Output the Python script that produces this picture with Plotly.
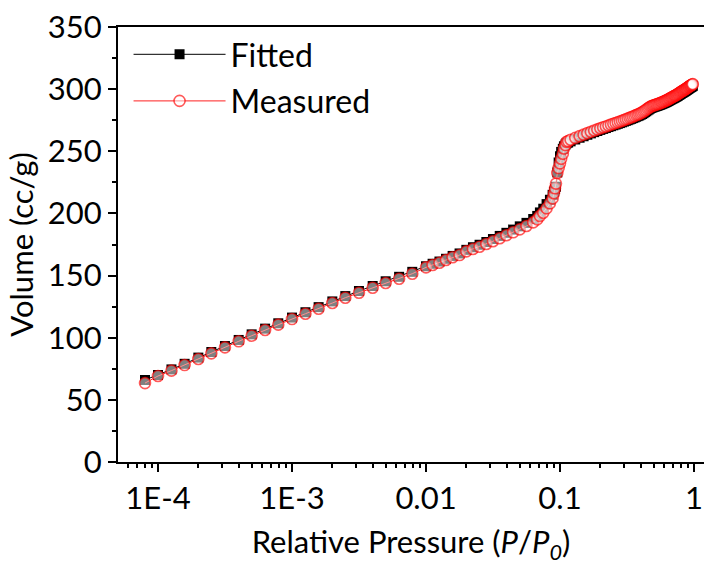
import plotly.graph_objects as go

# ---- low / mid pressure region (P/P0) ----
pressure_low = [
    8.0e-5, 1.0e-4, 1.26e-4, 1.58e-4, 2.0e-4, 2.5e-4, 3.16e-4, 4.0e-4, 5.0e-4, 6.3e-4,
    7.9e-4, 1.0e-3, 1.26e-3, 1.58e-3, 2.0e-3, 2.5e-3, 3.16e-3, 4.0e-3, 5.0e-3, 6.3e-3,
    7.9e-3, 0.0100, 0.0112, 0.0126, 0.0141, 0.0158, 0.0178, 0.0200, 0.0224, 0.0251,
    0.0282, 0.0316, 0.0355, 0.0398, 0.0447, 0.0501, 0.0562, 0.0631, 0.0676, 0.0708,
    0.0750, 0.0794, 0.0841, 0.0881, 0.0902, 0.0918, 0.0933, 0.0955, 0.0977, 0.1000,
    0.1020, 0.1050, 0.1070, 0.1100, 0.1120, 0.115,
]
measured_low = [
    63.5, 69.2, 73.5, 78.0, 82.9, 87.4, 92.2, 97.1, 101.6, 106.2,
    110.5, 115.0, 119.3, 123.3, 127.9, 132.2, 136.2, 140.2, 144.0, 147.5,
    151.5, 156.6, 158.5, 160.3, 162.5, 164.7, 166.5, 169.5, 171.4, 173.2,
    175.4, 177.6, 180.0, 182.4, 184.8, 187.2, 189.9, 192.8, 195.2, 197.9,
    200.6, 204.1, 208.1, 212.1, 216.2, 220.2, 224.0, 232.5, 236.5, 240.3,
    244.0, 248.0, 252.3, 255.0, 257.7, 258.2,
]
fitted_low = [
    66.0, 70.0, 74.5, 79.0, 84.0, 88.5, 93.3, 98.2, 102.7, 107.3,
    111.6, 116.2, 120.5, 124.6, 129.2, 133.5, 137.6, 141.6, 145.4, 149.0,
    153.0, 157.5, 159.5, 161.3, 163.5, 165.8, 167.8, 170.7, 172.8, 174.8,
    177.0, 179.4, 181.9, 184.4, 187.0, 189.6, 192.4, 195.5, 198.0, 200.8,
    203.8, 207.5, 211.0, 215.0, 217.5, 219.5, 221.5, 233.0, 241.0, 246.0,
    249.5, 252.0, 254.0, 255.5, 256.5, 257.0,
]

# ---- high pressure region (P/P0) ----
pressure_high = [
    0.12, 0.13, 0.14, 0.15, 0.16, 0.17, 0.18, 0.19, 0.20, 0.21,
    0.22, 0.23, 0.24, 0.25, 0.26, 0.27, 0.28, 0.29, 0.30, 0.31,
    0.32, 0.33, 0.34, 0.35, 0.36, 0.37, 0.38, 0.39, 0.40, 0.41,
    0.42, 0.43, 0.44, 0.45, 0.46, 0.47, 0.48, 0.49, 0.50, 0.51,
    0.52, 0.53, 0.54, 0.55, 0.56, 0.57, 0.58, 0.59, 0.60, 0.61,
    0.62, 0.63, 0.64, 0.65, 0.66, 0.67, 0.68, 0.69, 0.70, 0.71,
    0.72, 0.73, 0.74, 0.75, 0.76, 0.77, 0.78, 0.79, 0.80, 0.81,
    0.82, 0.83, 0.84, 0.85, 0.86, 0.87, 0.88, 0.89, 0.90, 0.91,
    0.92, 0.93, 0.94, 0.95, 0.96, 0.97, 0.98,
]
measured_high = [
    259.3, 260.8, 262.2, 263.4, 264.6, 265.7, 266.7, 267.6, 268.5, 269.3,
    270.0, 270.8, 271.5, 272.2, 272.8, 273.4, 274.0, 274.6, 275.2, 275.8,
    276.3, 276.9, 277.4, 278.0, 278.5, 279.1, 279.6, 280.1, 280.7, 281.3,
    282.0, 282.8, 283.5, 284.3, 285.0, 285.7, 286.2, 286.6, 287.0, 287.3,
    287.6, 287.9, 288.2, 288.5, 288.8, 289.2, 289.5, 289.9, 290.2, 290.6,
    290.9, 291.3, 291.7, 292.1, 292.5, 292.9, 293.3, 293.7, 294.0, 294.4,
    294.7, 295.1, 295.4, 295.8, 296.2, 296.6, 297.0, 297.4, 297.8, 298.2,
    298.5, 298.9, 299.2, 299.6, 299.9, 300.3, 300.6, 301.0, 301.4, 301.8,
    302.1, 302.5, 302.8, 303.1, 303.4, 303.7, 304.0,
]
fitted_high = [
    258.0, 259.5, 260.9, 262.1, 263.3, 264.4, 265.4, 266.3, 267.2, 268.0,
    268.7, 269.5, 270.2, 270.9, 271.5, 272.1, 272.7, 273.3, 273.9, 274.5,
    275.0, 275.6, 276.1, 276.7, 277.2, 277.8, 278.3, 278.8, 279.4, 280.0,
    280.7, 281.5, 282.2, 283.0, 283.7, 284.4, 284.9, 285.3, 285.7, 286.0,
    286.3, 286.6, 286.9, 287.2, 287.5, 287.9, 288.2, 288.6, 288.9, 289.3,
    289.6, 290.0, 290.4, 290.8, 291.2, 291.6, 292.0, 292.4, 292.7, 293.1,
    293.4, 293.8, 294.1, 294.5, 294.9, 295.3, 295.7, 296.1, 296.5, 296.9,
    297.2, 297.6, 297.9, 298.3, 298.6, 299.0, 299.3, 299.7, 300.1, 300.5,
    300.8, 301.2, 301.5, 301.8, 302.1, 302.4, 302.7,
]

pressure = pressure_low + pressure_high
measured_volume = measured_low + measured_high
fitted_volume = fitted_low + fitted_high

x_tickvals = [1e-4, 1e-3, 1e-2, 1e-1, 1]
x_ticktext = ["1E-4", "1E-3", "0.01", "0.1", "1"]
y_tickvals = [0, 50, 100, 150, 200, 250, 300, 350]

FONT = "Lato"
FS = 31

fig = go.Figure()
fig.add_trace(go.Scatter(
    x=pressure, y=fitted_volume, name="Fitted", mode="lines+markers",
    line=dict(color="black", width=1),
    marker=dict(symbol="square", size=10, color="black"),
    legendgroup="a",
))
fig.add_trace(go.Scatter(
    x=pressure, y=measured_volume, name="Measured", mode="lines+markers",
    line=dict(color="#ff2020", width=1),
    marker=dict(symbol="circle", size=11, color="rgba(255,255,255,0.5)",
                line=dict(color="rgba(255,0,0,0.65)", width=1.6)),
    legendgroup="b",
))

fig.update_layout(
    width=704, height=565,
    margin=dict(l=118, r=0, t=27, b=103),
    paper_bgcolor="white", plot_bgcolor="white",
    font=dict(family=FONT, size=FS, color="black"),
    showlegend=True,
    legend=dict(
        x=0.018, y=1.0, xanchor="left", yanchor="top",
        bgcolor="rgba(0,0,0,0)", itemwidth=92,
        tracegroupgap=2, traceorder="grouped",
        font=dict(family=FONT, size=32, color="black"),
    ),
    xaxis=dict(
        type="log", range=[-4.2985, 0.0746],
        tickvals=x_tickvals, ticktext=x_ticktext,
        showline=True, linecolor="black", linewidth=2, mirror=True,
        ticks="outside", ticklen=8, tickwidth=2, tickcolor="black",
        minor=dict(ticks="outside", ticklen=4, tickwidth=1.5, tickcolor="black", dtick="D1"),
        showgrid=False, zeroline=False,
        tickfont=dict(family=FONT, size=FS),
        title=dict(text="Relative Pressure (<i>P</i>/<i>P</i><sub><i>0</i></sub>)",
                   font=dict(family=FONT, size=FS), standoff=17),
    ),
    yaxis=dict(
        range=[0, 350], tickvals=y_tickvals,
        showline=True, linecolor="black", linewidth=2, mirror=False,
        ticks="outside", ticklen=8, tickwidth=2, tickcolor="black",
        minor=dict(ticks="outside", ticklen=4, tickwidth=1.5, tickcolor="black", dtick=25),
        showgrid=False, zeroline=False,
        tickfont=dict(family=FONT, size=FS),
        title=dict(text="Volume (cc/g)", font=dict(family=FONT, size=FS), standoff=5),
    ),
)

fig.write_html("out.html")
